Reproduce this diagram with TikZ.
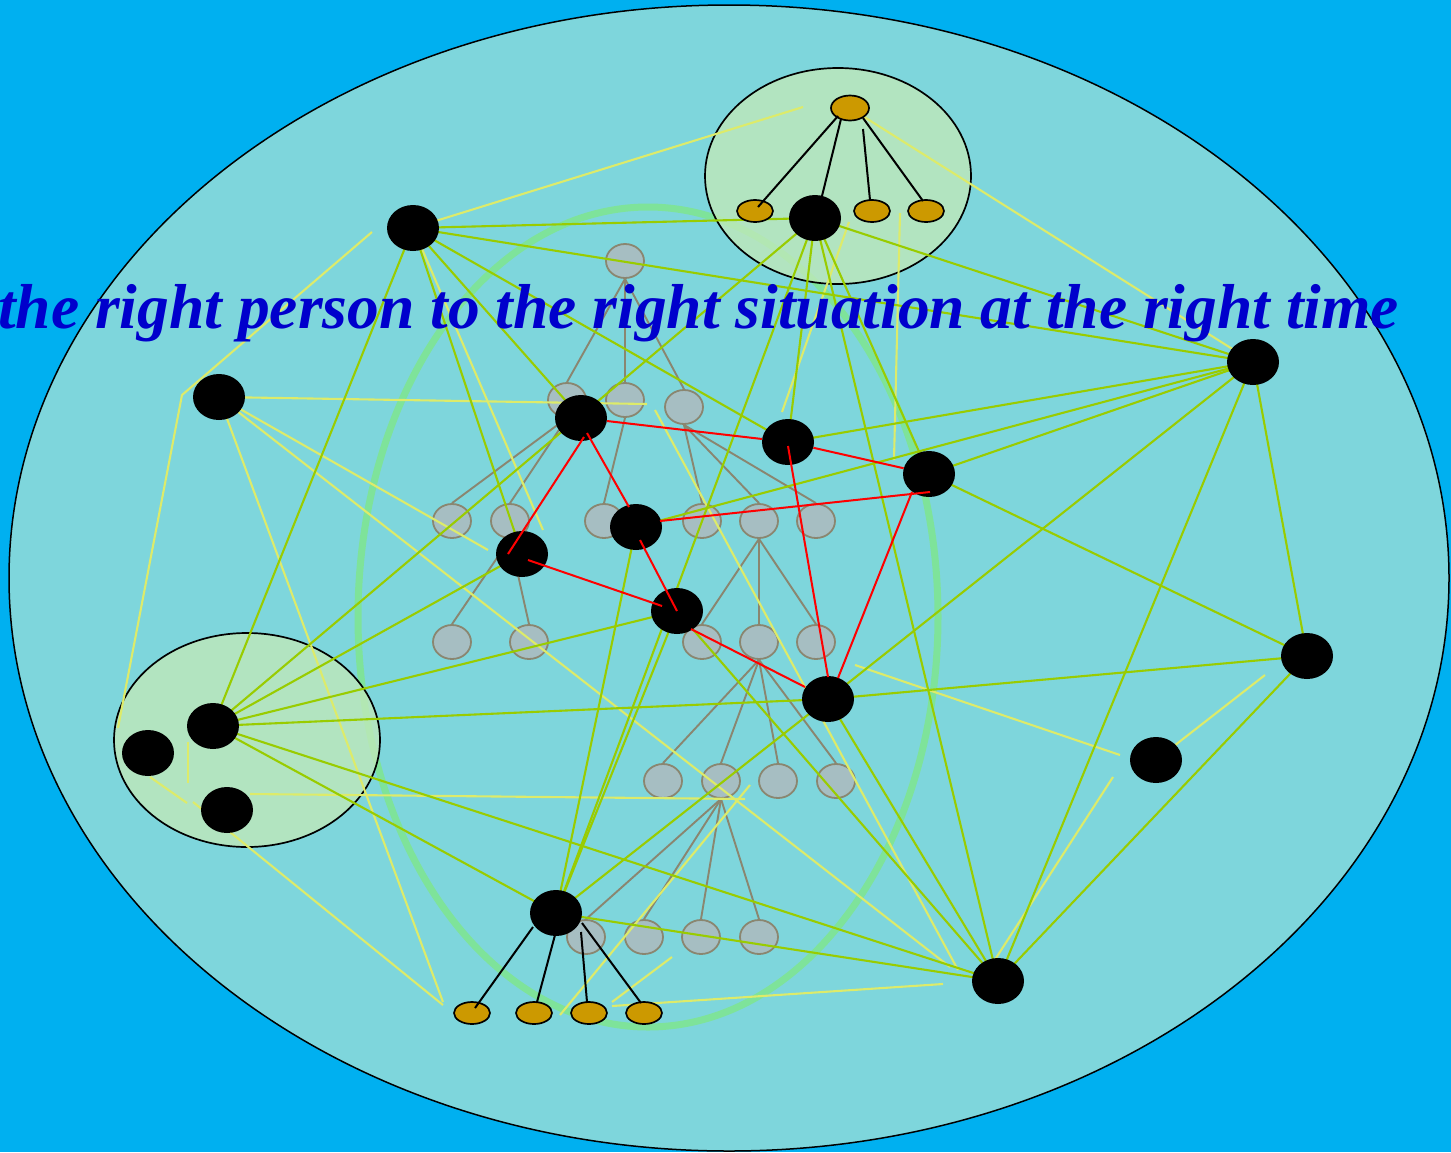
\documentclass[tikz,border=0pt]{standalone}
\usepackage{fontspec}
\setmainfont{Liberation Serif}
\usetikzlibrary{shapes.geometric,calc}
\definecolor{bgblue}{HTML}{00B0F0}
\definecolor{bigfill}{HTML}{7ED6DC}
\definecolor{smallfill}{HTML}{C0E8BA}
\definecolor{arcgreen}{HTML}{7EE39A}
\definecolor{lgreen}{HTML}{99CC00}
\definecolor{lyellow}{HTML}{DDEB6A}
\definecolor{greyfill}{HTML}{A6BEC2}
\definecolor{greyedge}{HTML}{8A8670}
\definecolor{gold}{HTML}{CC9900}
\definecolor{textblue}{HTML}{0000CC}
\tikzset{
  bn/.style={ellipse, fill=black, minimum width=52pt, minimum height=46pt, inner sep=0pt},
  gn/.style={ellipse, fill=greyfill, draw=greyedge, line width=1.8pt, minimum width=38pt, minimum height=34pt, inner sep=0pt},
  au/.style={ellipse, fill=gold, draw=black, line width=1.7pt, minimum width=36pt, minimum height=22pt, inner sep=0pt},
  aur/.style={au, minimum width=38pt, minimum height=25pt},
  gline/.style={draw=lgreen, line width=2.1pt},
  yline/.style={draw=lyellow, line width=2.1pt},
  tedge/.style={draw=greyedge, line width=1.9pt},
  rline/.style={draw=red, line width=2pt},
  kline/.style={draw=black, line width=2pt},
  group/.style={draw=black, line width=1.7pt, fill=smallfill, fill opacity=0.8}
}
\begin{document}
\begin{tikzpicture}[x=1pt,y=-1pt]
\clip (0,0) rectangle (1451,1152);
\fill[bgblue] (0,0) rectangle (1451,1152);
\draw[fill=bigfill, line width=1.5pt] (729,578) ellipse [x radius=720pt, y radius=573pt];
\draw[arcgreen, line width=7pt] (648,617) ellipse [x radius=290pt, y radius=410pt];
\draw[group] (838,176) ellipse [x radius=133pt, y radius=108pt];
\draw[group] (247,740) ellipse [x radius=133pt, y radius=107pt];

% grey tree
\node[gn] (t0) at (625,261) {};
\node[gn] (t1) at (567,400) {};
\node[gn] (t2) at (625,400) {};
\node[gn] (t3) at (684,407) {};
\node[gn] (t4) at (452,521) {};
\node[gn] (t5) at (510,521) {};
\node[gn] (t6) at (604,521) {};
\node[gn] (t7) at (702,521) {};
\node[gn] (t8) at (759,521) {};
\node[gn] (t9) at (816,521) {};
\node[gn] (t10) at (452,642) {};
\node[gn] (t11) at (529,642) {};
\node[gn] (t12) at (702,642) {};
\node[gn] (t13) at (759,642) {};
\node[gn] (t14) at (816,642) {};
\node[gn] (t15) at (663,781) {};
\node[gn] (t16) at (721,781) {};
\node[gn] (t17) at (778,781) {};
\node[gn] (t18) at (836,781) {};
\node[gn] (t19) at (586,937) {};
\node[gn] (t20) at (644,937) {};
\node[gn] (t21) at (701,937) {};
\node[gn] (t22) at (759,937) {};
\foreach \p/\c in {t0/t1,t0/t2,t0/t3,t1/t4,t1/t5,t2/t6,t3/t7,t3/t8,t3/t9,t5/t10,t5/t11,t8/t12,t8/t13,t8/t14,t13/t15,t13/t16,t13/t17,t13/t18,t16/t19,t16/t20,t16/t21,t16/t22}
  \draw[tedge] (\p.south) -- (\c.north);

% black nodes (positions)
\coordinate (A) at (413,228);
\coordinate (B) at (815,218);
\coordinate (C) at (219,397);
\coordinate (D) at (581,418);
\coordinate (E) at (788,442);
\coordinate (F) at (1253,362);
\coordinate (G) at (929,474);
\coordinate (H) at (636,527);
\coordinate (I) at (522,554);
\coordinate (J) at (677,611);
\coordinate (K) at (1307,656);
\coordinate (L) at (828,699);
\coordinate (M) at (213,726);
\coordinate (N) at (148,753);
\coordinate (O) at (227,810);
\coordinate (P) at (1156,760);
\coordinate (Q) at (556,913);
\coordinate (R) at (998,981);
\coordinate (gr) at (850,108);

% free ends of yellow lines
\coordinate (y1) at (803,107);
\coordinate (y2) at (543,530);
\coordinate (y3a) at (372,232);
\coordinate (y3b) at (182,395);
\coordinate (y3c) at (118,728);
\coordinate (y4) at (647,404);
\coordinate (y5) at (488,550);
\coordinate (y6) at (950,967);
\coordinate (y7) at (443,1002);
\coordinate (y8a) at (250,794);
\coordinate (y8b) at (745,799);
\coordinate (y9a) at (188,742);
\coordinate (y9b) at (188,783);
\coordinate (y10a) at (150,777);
\coordinate (y10b) at (187,803);
\coordinate (y11a) at (193,802);
\coordinate (y11b) at (443,1005);
\coordinate (y12a) at (560,1015);
\coordinate (y12b) at (750,785);
\coordinate (y13a) at (612,1002);
\coordinate (y13b) at (672,957);
\coordinate (y14a) at (612,1006);
\coordinate (y14b) at (943,984);
\coordinate (y15a) at (655,410);
\coordinate (y15b) at (958,970);
\coordinate (y16a) at (855,665);
\coordinate (y16b) at (1120,755);
\coordinate (y17) at (1265,675);
\coordinate (y18a) at (1113,777);
\coordinate (y18b) at (985,975);
\coordinate (y20a) at (849,222);
\coordinate (y20b) at (782,412);
\coordinate (y21a) at (900,213);
\coordinate (y21b) at (894,460);

% yellow lines
\draw[yline] (A) -- (y1);
\draw[yline] (A) -- (y2);
\draw[yline] (y3a) -- (y3b) -- (y3c);
\draw[yline] (C) -- (y4);
\draw[yline] (C) -- (y5);
\draw[yline] (C) -- (y6);
\draw[yline] (C) -- (y7);
\draw[yline] (y8a) -- (y8b);
\draw[yline] (y9a) -- (y9b);
\draw[yline] (y10a) -- (y10b);
\draw[yline] (y11a) -- (y11b);
\draw[yline] (y12a) -- (y12b);
\draw[yline] (y13a) -- (y13b);
\draw[yline] (y14a) -- (y14b);
\draw[yline] (y15a) -- (y15b);
\draw[yline] (y16a) -- (y16b);
\draw[yline] (P) -- (y17);
\draw[yline] (y18a) -- (y18b);
\draw[yline] (gr) -- (F);
\draw[yline] (y20a) -- (y20b);
\draw[yline] (y21a) -- (y21b);

% green lines
\foreach \a/\b in {A/B,A/F,A/E,A/D,A/I,A/M,B/F,B/M,B/E,B/Q,B/R,B/G,F/E,F/H,F/G,F/L,F/R,F/K,G/K,K/L,K/R,L/M,L/R,L/Q,M/I,M/J,M/R,M/Q,H/Q,J/Q,J/R,Q/R}
  \draw[gline] (\a) -- (\b);

% black nodes
\foreach \n in {A,B,C,D,E,F,G,H,I,J,K,L,M,N,O,P,Q,R}
  \node[bn] (n\n) at (\n) {};

% gold nodes
\node[aur] (g0) at (gr) {};
\node[au] (g1) at (755,211) {};
\node[au] (g3) at (872,211) {};
\node[au] (g4) at (926,211) {};
\node[au] (b1) at (472,1013) {};
\node[au] (b2) at (534,1013) {};
\node[au] (b3) at (589,1013) {};
\node[au] (b4) at (644,1013) {};

% red lines
\draw[rline] (nD) -- (nE);
\draw[rline] (nE) -- (nG);
\draw[rline] ($(nD)+(3,19)$) -- ($(nI)+(-14,0)$);
\draw[rline] ($(nD)+(6,15)$) -- ($(nH)+(-7,-20)$);
\draw[rline] ($(nH)+(24,-6)$) -- ($(nG)+(1,18)$);
\draw[rline] ($(nI)+(6,6)$) -- ($(nJ)+(-15,-5)$);
\draw[rline] ($(nH)+(4,13)$) -- (nJ.center);
\draw[rline] ($(nE)+(0,4)$) -- ($(nL)+(0,-22)$);
\draw[rline] ($(nG)+(-17,18)$) -- ($(nL)+(10,-21)$);
\draw[rline] ($(nJ)+(14,18)$) -- ($(nL)+(-23,-12)$);

% black tree lines
\draw[kline] ($(g0)+(-12,8)$) -- ($(g1)+(3,-4)$);
\draw[kline] ($(g0)+(-9,11)$) -- ($(nB)+(7,-22)$);
\draw[kline] ($(g0)+(13,21)$) -- ($(g3)+(-2,-11)$);
\draw[kline] ($(g0)+(13,10)$) -- ($(g4)+(-3,-10)$);
\draw[kline] ($(nQ)+(-23,14)$) -- ($(b1)+(3,-5)$);
\draw[kline] ($(nQ)+(-1,22)$) -- ($(b2)+(3,-11)$);
\draw[kline] ($(nQ)+(25,19)$) -- ($(b3)+(-2,-11)$);
\draw[kline] ($(nQ)+(26,10)$) -- ($(b4)+(-3,-10)$);

% title
\node[anchor=base west, inner sep=0pt, text=textblue, font=\fontsize{63.5}{70}\selectfont\bfseries\itshape] (title) at (-2,328) {the right person to the right situation at the right time};
\end{tikzpicture}
\end{document}
